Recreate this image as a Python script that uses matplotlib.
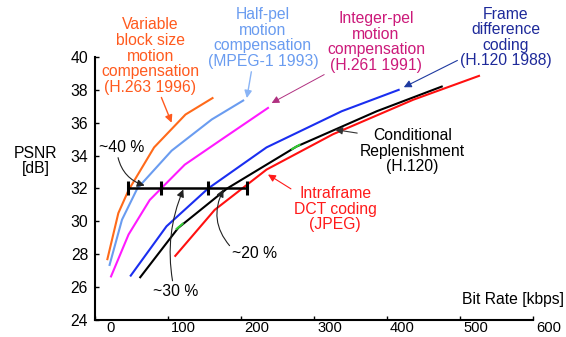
import numpy as np
import matplotlib
matplotlib.use("Agg")
import matplotlib.pyplot as plt
from matplotlib.transforms import ScaledTranslation

plt.rcParams['font.family'] = ['Liberation Sans', 'DejaVu Sans']

# rate-distortion curves (kbps, dB)
vbs_x = [17, 32, 46, 81, 124, 161]
vbs_y = [27.7, 30.5, 31.9, 34.5, 36.5, 37.5]
half_x = [20, 37, 58, 105, 160, 203]
half_y = [27.35, 30.1, 32.0, 34.3, 36.2, 37.35]
int_x = [22, 46, 75, 123, 174, 237]
int_y = [26.65, 29.2, 31.3, 33.45, 35.0, 36.9]
fd_x = [49, 98, 155, 235, 338, 416]
fd_y = [26.7, 29.7, 32.0, 34.5, 36.7, 38.0]
cr_x = [62, 114, 181, 276, 386, 475]
cr_y = [26.6, 29.6, 32.0, 34.55, 36.7, 38.2]
dct_x = [110, 164, 235, 326, 436, 526]
dct_y = [27.9, 30.7, 33.15, 35.3, 37.4, 38.85]
green_x = [112, 120, np.nan, 270, 280]
green_y = [29.55, 29.85, np.nan, 34.4, 34.65]

# bit-rate comparison at 32 dB
bar_level = 32
bar_x = [45, 90, 155, 208]

xticks = [0, 100, 200, 300, 400, 500, 600]
yticks = [24, 26, 28, 30, 32, 34, 36, 38, 40]

fig = plt.figure(figsize=(5.66, 3.37), dpi=100)
ax = fig.add_axes([0.1678, 0.0505, 0.7739, 0.7804])

lw = 1.5
ax.plot(vbs_x, vbs_y, color='#ff6a1a', lw=lw)
ax.plot(half_x, half_y, color='#6a9cf0', lw=lw)
ax.plot(int_x, int_y, color='#ff1aff', lw=lw)
ax.plot(fd_x, fd_y, color='#1a2ef0', lw=lw)
ax.plot(cr_x, cr_y, color='black', lw=lw)
ax.plot(dct_x, dct_y, color='#ff1010', lw=lw)
ax.plot(green_x, green_y, color='#33cc33', lw=lw)

ax.plot([bar_x[0], bar_x[-1]], [bar_level, bar_level], color='black', lw=1.8)
ax.plot(bar_x, [bar_level] * len(bar_x), '|', color='black', ms=10, mew=2.2)

fs = 11.3
ls = 1.05

ax.set_xlim(0, 600)
ax.set_ylim(24, 40)
ax.set_xticks(xticks)
ax.set_yticks(yticks)
ax.tick_params(direction='in', length=3, width=1, labelsize=fs)
ax.tick_params(axis='y', pad=5)
ax.tick_params(axis='x', pad=0.5, labelsize=10.6)
for lab in ax.get_xticklabels():
    lab.set_transform(lab.get_transform() + ScaledTranslation(0.155, 0, fig.dpi_scale_trans))
for s in ['top', 'right']:
    ax.spines[s].set_visible(False)
for s in ['left', 'bottom']:
    ax.spines[s].set_linewidth(1.5)

ax.text(-81, 33.67, 'PSNR\n[dB]', fontsize=fs, ha='center', va='center', linespacing=ls)
ax.text(642, 25.27, 'Bit Rate [kbps]', fontsize=fs, ha='right', va='center')

ax.annotate('Variable\nblock size\nmotion\ncompensation\n(H.263 1996)',
            xy=(105, 36.0), xytext=(76, 40.06), color='#ff5a1e', fontsize=fs,
            ha='center', va='center', linespacing=ls, annotation_clip=False,
            arrowprops=dict(arrowstyle='-|>', color='#ff5a1e', lw=1.0, mutation_scale=11,
                            shrinkA=0, shrinkB=0, relpos=(0.6, 0.0)))
ax.annotate('Half-pel\nmotion\ncompensation\n(MPEG-1 1993)',
            xy=(208, 37.5), xytext=(230, 41.15), color='#6a9cf0', fontsize=fs,
            ha='center', va='center', linespacing=ls, annotation_clip=False,
            arrowprops=dict(arrowstyle='-|>', color='#8ab4f5', lw=1.0, mutation_scale=11,
                            shrinkA=0, shrinkB=0, relpos=(0.4, 0.0)))
ax.annotate('Integer-pel\nmotion\ncompensation\n(H.261 1991)',
            xy=(242, 37.2), xytext=(385, 40.9), color='#cc1a7a', fontsize=fs,
            ha='center', va='center', linespacing=ls, annotation_clip=False,
            arrowprops=dict(arrowstyle='-|>', color='#b03080', lw=0.7, mutation_scale=11,
                            shrinkA=0, shrinkB=0, relpos=(0.0, 0.0)))
ax.annotate('Frame\ndifference\ncoding\n(H.120 1988)',
            xy=(423, 38.16), xytext=(563, 41.19), color='#1e2a9a', fontsize=fs,
            ha='center', va='center', linespacing=ls, annotation_clip=False,
            arrowprops=dict(arrowstyle='-|>', color='#1e3aa0', lw=0.8, mutation_scale=11,
                            shrinkA=0, shrinkB=0, relpos=(0.0, 0.15)))
ax.annotate('Conditional\nReplenishment\n(H.120)',
            xy=(329, 35.58), xytext=(435, 34.26), color='black', fontsize=fs,
            ha='center', va='center', linespacing=ls, annotation_clip=False,
            arrowprops=dict(arrowstyle='-|>', color='#333333', lw=0.8, mutation_scale=11,
                            shrinkA=0, shrinkB=0, relpos=(0.1, 0.85)))
ax.annotate('Intraframe\nDCT coding\n(JPEG)',
            xy=(237, 32.85), xytext=(329, 30.73), color='#ff1a1a', fontsize=fs,
            ha='center', va='center', linespacing=ls, annotation_clip=False,
            arrowprops=dict(arrowstyle='-|>', color='#ff1a1a', lw=0.8, mutation_scale=11,
                            shrinkA=0, shrinkB=0, relpos=(0.05, 0.85)))

for txt, xy, xytext, rad, rp in [('~40 %', (68, 32.18), (37, 34.5), 0.3, (0.4, 0.0)),
                                  ('~30 %', (121, 31.94), (110, 25.76), -0.15, (0.45, 1.0)),
                                  ('~20 %', (176, 31.94), (219, 28.06), -0.35, (0.0, 0.8))]:
    ax.annotate(txt, xy=xy, xytext=xytext, color='black', fontsize=fs,
                ha='center', va='center', annotation_clip=False,
                arrowprops=dict(arrowstyle='-|>', color='#222222', lw=0.8, mutation_scale=11,
                                shrinkA=0, shrinkB=0, relpos=rp,
                                connectionstyle=f'arc3,rad={rad}'))

fig.savefig('out.png', dpi=100)
